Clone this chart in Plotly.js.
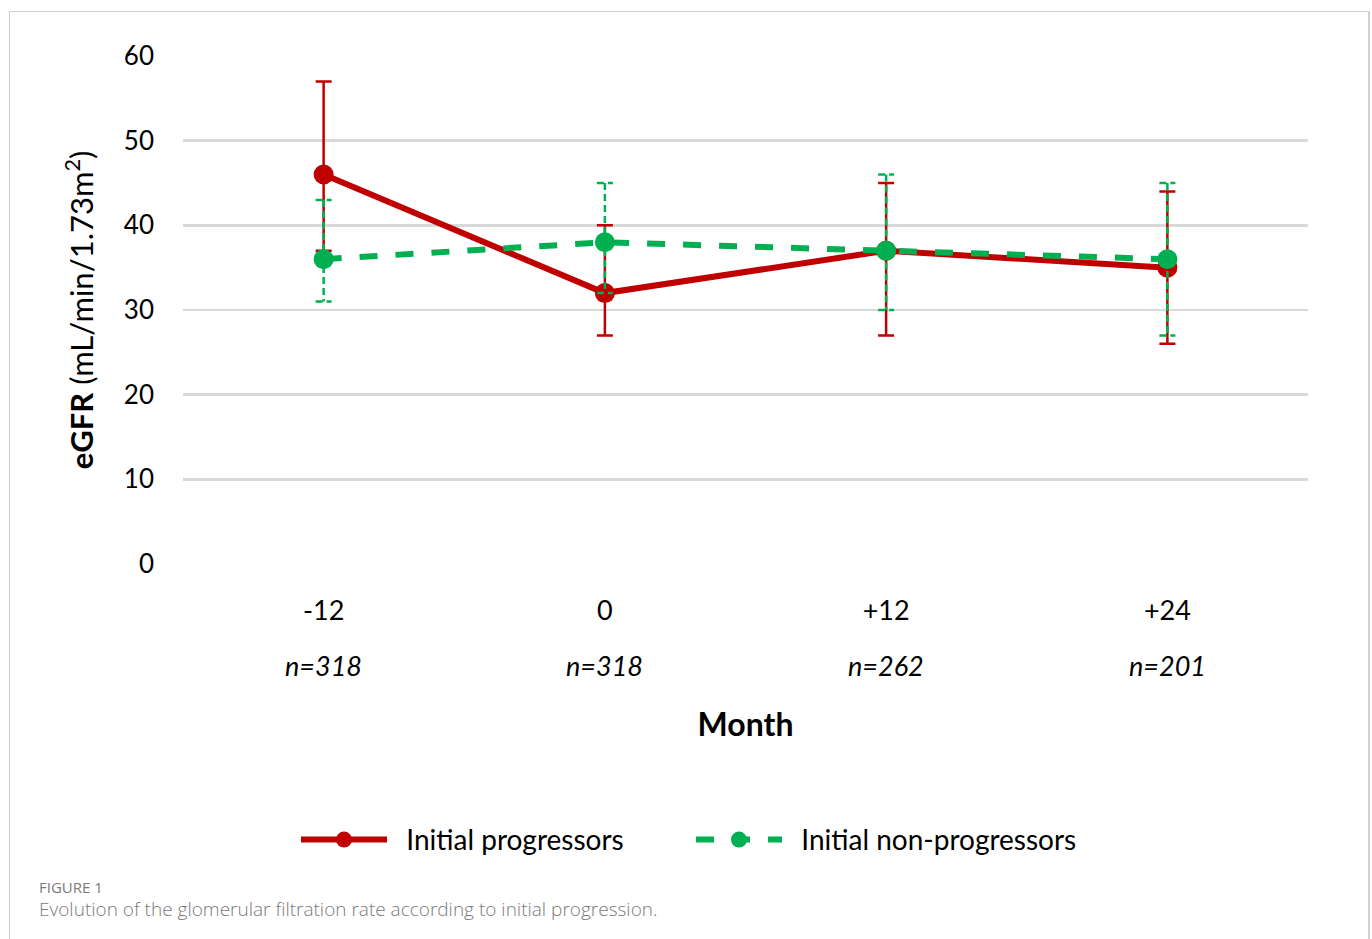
<!DOCTYPE html>
<html>
<head>
<meta charset="utf-8">
<script src="https://cdn.plot.ly/plotly-3.0.1.min.js"></script>
<style>
html,body{margin:0;padding:0;background:#fff;}
#wrap{position:relative;width:1372px;height:939px;overflow:hidden;}
#chart{position:absolute;left:0;top:0;width:1372px;height:939px;}
#frame{position:absolute;left:9px;top:11px;width:1358px;height:960px;border-top:1.5px solid #cfcfcf;border-left:1.5px solid #cfcfcf;border-right:2px solid #d0d0d0;pointer-events:none;}
#cap1{position:absolute;left:39px;top:877px;font-family:"Open Sans",sans-serif;font-size:15px;color:#7a7a7a;}
#cap2{position:absolute;left:39px;top:896px;font-family:"Open Sans",sans-serif;font-size:19px;color:#7a7a7a;font-weight:300;}
</style>
</head>
<body>
<div id="wrap">
<div id="chart"></div>
<div id="frame"></div>
<div id="cap1">FIGURE 1</div>
<div id="cap2">Evolution of the glomerular filtration rate according to initial progression.</div>
</div>
<script>
const months = ["-12", "0", "+12", "+24"];
const nCounts = [318, 318, 262, 201];

const progMean = [46, 32, 37, 35];
const progLow  = [37, 27, 27, 26];
const progHigh = [57, 40, 45, 44];

const nonMean = [36, 38, 37, 36];
const nonLow  = [31, 32, 30, 27];
const nonHigh = [43, 45, 46, 45];

const RED = "#c00000";
const GREEN = "#00b050";
const FONT = "Lato, 'Open Sans', sans-serif";

const traces = [
  {
    x: months, y: progMean, type: "scatter", mode: "lines+markers",
    name: "\u00a0\u00a0Initial progressors",
    line: {color: RED, width: 6},
    marker: {color: RED, size: 20},
    error_y: {type: "data", symmetric: false,
      array: progHigh.map((h, i) => h - progMean[i]),
      arrayminus: progMean.map((m, i) => m - progLow[i]),
      color: RED, thickness: 2.5, width: 8}
  },
  {
    x: months, y: nonMean, type: "scatter", mode: "lines+markers",
    name: "\u00a0\u00a0Initial non-progressors",
    line: {color: GREEN, width: 6, dash: "dash"},
    marker: {color: GREEN, size: 20},
    error_y: {type: "data", symmetric: false,
      array: nonHigh.map((h, i) => h - nonMean[i]),
      arrayminus: nonMean.map((m, i) => m - nonLow[i]),
      color: GREEN, thickness: 2.5, width: 8}
  }
];

const annotations = months.map((m, i) => ({
  x: i, xref: "x", y: -0.2, yref: "paper",
  text: "<i>n=" + nCounts[i] + "</i>", showarrow: false,
  xanchor: "center", yanchor: "middle",
  font: {family: FONT, size: 27, color: "#000"}
}));

const layout = {
  width: 1372, height: 939,
  margin: {l: 183, r: 64, t: 56, b: 375},
  paper_bgcolor: "rgba(0,0,0,0)", plot_bgcolor: "#fff",
  showlegend: true,
  legend: {orientation: "h", x: (296 - 183) / 1125, xanchor: "left", y: -0.543, yanchor: "middle",
    font: {family: FONT, size: 28, color: "#000"}, itemwidth: 86, entrywidth: 294, entrywidthmode: "pixels"},
  xaxis: {
    type: "category", range: [-0.5, 3.5],
    showgrid: false, zeroline: false, showline: false, ticks: "",
    tickfont: {family: FONT, size: 27, color: "#000"},
    ticklabelstandoff: 28,
    title: {text: "<b>Month</b>", font: {family: FONT, size: 32, color: "#000"}, standoff: 88}
  },
  yaxis: {
    range: [0, 60], dtick: 10, showgrid: true, gridcolor: "#d9d9d9", gridwidth: 2.5,
    zeroline: false, showline: false, ticks: "",
    tickfont: {family: FONT, size: 26, color: "#000"},
    ticklabelstandoff: 28,
    title: {text: "<b>eGFR</b> (mL/min/1.73m<sup>2</sup>)", font: {family: FONT, size: 31, color: "#000"}, standoff: 20}
  },
  annotations: annotations
};

Plotly.newPlot("chart", traces, layout, {displayModeBar: false, staticPlot: true}).then(gd => {
  // dashed style for the non-progressors' error bars, as in the reference
  const groups = gd.querySelectorAll(".errorbars");
  if (groups.length > 1) {
    groups[1].querySelectorAll("path").forEach(p => {
      p.style.strokeDasharray = "7,4";
    });
  }
});
</script>
</body>
</html>
